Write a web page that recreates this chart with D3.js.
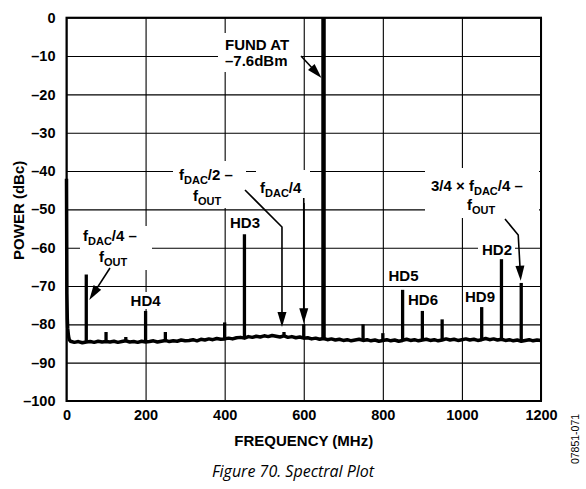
<!DOCTYPE html>
<html>
<head>
<meta charset="utf-8">
<script src="https://cdnjs.cloudflare.com/ajax/libs/d3/7.8.5/d3.min.js"></script>
<style>
  body { margin: 0; background: #fff; }
  text { font-family: "Liberation Sans", Arial, sans-serif; fill: #000; }
</style>
</head>
<body>
<div id="spectral"></div>
<script>
// axis ticks
var xTicks = [0, 200, 400, 600, 800, 1000, 1200];
var xTickLabels = ["0", "200", "400", "600", "800", "1000", "1200"];
var yTicks = [0, -10, -20, -30, -40, -50, -60, -70, -80, -90, -100];
var yTickLabels = ["0", "\u201310", "\u201320", "\u201330", "\u201340", "\u201350", "\u201360", "\u201370", "\u201380", "\u201390", "\u2013100"];

// DC roll-off at the start of the sweep (MHz, dBc)
var dcFreq = [0, 1, 2, 3, 5, 7];
var dcLevel = [-42, -72, -78.5, -81, -83, -84];

// noise floor, one reading every 10 MHz from 10 to 1200 MHz
var floorStep = 10;
var floorLevel = [
  -84.4, -84.7, -84.5, -84.8, -84.6, -84.5, -84.7, -84.4, -84.6, -84.5,
  -84.6, -84.4, -84.7, -84.5, -84.3, -84.6, -84.5, -84.7, -84.4, -84.6,
  -84.5, -84.3, -84.6, -84.4, -84.2, -84.5, -84.3, -84.4, -84.1, -84.3,
  -84.2, -84.0, -84.3, -83.9, -84.1, -83.8, -84.0, -83.7, -83.9, -83.8,
  -83.6, -83.8, -83.5, -83.4, -83.6, -83.2, -83.4, -83.1, -83.3, -83.0,
  -83.2, -82.9, -83.1, -83.3, -83.0, -83.4, -83.2, -83.5, -83.3, -83.6,
  -83.5, -83.8, -83.6, -83.9, -83.7, -84.0, -83.8, -84.1, -83.9, -84.2,
  -84.0, -84.3, -84.1, -83.9, -84.2, -84.0, -84.3, -84.1, -84.4, -84.2,
  -84.0, -84.3, -84.1, -84.4, -84.2, -83.9, -84.2, -84.0, -84.3, -84.1,
  -83.9, -84.2, -84.0, -84.3, -84.1, -83.8, -84.1, -83.9, -84.2, -84.0,
  -83.8, -84.1, -83.9, -84.2, -84.0, -83.7, -84.0, -83.8, -84.1, -83.9,
  -84.2, -84.0, -84.3, -84.1, -84.4, -84.2, -84.0, -84.3, -84.1, -84.2
];

// spurs (MHz, dBc)
var spurFreq = [50, 100, 150, 200, 250, 400, 450, 550, 600, 750, 800, 850, 900, 950, 1050, 1100, 1150];
var spurLevel = [-67, -82, -83.3, -76.5, -82, -79.5, -56.5, -82, -80, -80, -82.3, -71, -76.5, -78.7, -75.5, -63, -69.2];

// fundamental
var fundFreq = [650];
var fundLevel = [0];

var W = 586, H = 489;
var svg = d3.select("#spectral")
  .append("svg")
    .attr("width", W)
    .attr("height", H);

var x = d3.scaleLinear().domain([0, 1200]).range([66.5, 541]);
var y = d3.scaleLinear().domain([-100, 0]).range([401, 17.7]);

// grid + tick labels
var xAxis = svg.append("g")
  .attr("transform", "translate(0," + y(-100) + ")")
  .call(d3.axisBottom(x)
    .tickValues(xTicks)
    .tickSize(-(y(-100) - y(0)))
    .tickPadding(9)
    .tickFormat(function(d, i) { return xTickLabels[i]; }));
var yAxis = svg.append("g")
  .attr("transform", "translate(" + x(0) + ",0)")
  .call(d3.axisLeft(y)
    .tickValues(yTicks)
    .tickSize(-(x(1200) - x(0)))
    .tickPadding(11)
    .tickFormat(function(d, i) { return yTickLabels[i]; }));

[xAxis, yAxis].forEach(function(a) {
  a.select(".domain").remove();
  a.selectAll("line").attr("stroke", "#000").attr("stroke-width", 1.1);
  a.selectAll("text")
    .style("font-family", "'Liberation Sans', Arial, sans-serif")
    .style("font-size", "14.5px")
    .style("font-weight", "bold")
    .attr("fill", "#000");
});

// white boxes behind the annotations (they cut the grid)
var boxes = [
  [218, 33, 83, 39],
  [173, 161, 73, 47],
  [256, 170, 54, 33],
  [80, 226, 72, 44],
  [128, 292, 36, 17],
  [425, 168, 114, 50],
  [478, 240, 37, 17]
];
svg.selectAll("rect.box")
  .data(boxes)
  .enter()
  .append("rect")
    .attr("class", "box")
    .attr("x", function(d) { return d[0]; })
    .attr("y", function(d) { return d[1]; })
    .attr("width", function(d) { return d[2]; })
    .attr("height", function(d) { return d[3]; })
    .attr("fill", "#fff");

// spectrum: DC roll-off + noise floor
var trace = dcFreq.map(function(f, i) { return [f, dcLevel[i]]; })
  .concat(floorLevel.map(function(v, i) { return [floorStep * (i + 1), v]; }));

svg.append("path")
  .datum(trace)
  .attr("fill", "none")
  .attr("stroke", "#000")
  .attr("stroke-width", 3.5)
  .attr("stroke-linejoin", "round")
  .attr("d", d3.line()
    .x(function(d) { return x(d[0]); })
    .y(function(d) { return y(d[1]); }));

function floorAt(f) {
  return floorLevel[Math.max(0, Math.round(f / floorStep) - 1)];
}

// spurs
svg.selectAll("line.spur")
  .data(spurFreq)
  .enter()
  .append("line")
    .attr("class", "spur")
    .attr("x1", function(d) { return x(d); })
    .attr("x2", function(d) { return x(d); })
    .attr("y1", function(d) { return y(floorAt(d)); })
    .attr("y2", function(d, i) { return y(spurLevel[i]); })
    .attr("stroke", "#000")
    .attr("stroke-width", 3.3);

svg.selectAll("line.fund")
  .data(fundFreq)
  .enter()
  .append("line")
    .attr("class", "fund")
    .attr("x1", function(d) { return x(d); })
    .attr("x2", function(d) { return x(d); })
    .attr("y1", function(d) { return y(floorAt(d)); })
    .attr("y2", function(d, i) { return y(fundLevel[i]); })
    .attr("stroke", "#000")
    .attr("stroke-width", 4.5);

// plot frame
svg.append("rect")
  .attr("x", x(0))
  .attr("y", y(0))
  .attr("width", x(1200) - x(0))
  .attr("height", y(-100) - y(0))
  .attr("fill", "none")
  .attr("stroke", "#000")
  .attr("stroke-width", 2);

// axis titles
svg.append("text")
  .attr("x", (x(0) + x(1200)) / 2)
  .attr("y", 446)
  .attr("text-anchor", "middle")
  .style("font-size", "15px")
  .style("font-weight", "bold")
  .text("FREQUENCY (MHz)");

svg.append("text")
  .attr("transform", "translate(24," + (y(-50) + 1) + ") rotate(-90)")
  .attr("text-anchor", "middle")
  .style("font-size", "15px")
  .style("font-weight", "bold")
  .text("POWER (dBc)");

svg.append("text")
  .attr("x", 293)
  .attr("y", 477)
  .attr("text-anchor", "middle")
  .style("font-family", "'Open Sans', sans-serif")
  .style("font-style", "italic")
  .style("font-size", "16px")
  .text("Figure 70. Spectral Plot");

svg.append("text")
  .attr("transform", "translate(579,439) rotate(-90)")
  .attr("text-anchor", "middle")
  .style("font-size", "10.5px")
  .text("07851-071");

// annotation text; parts starting with "_" are subscripts
function label(px, py, parts, anchor) {
  var t = svg.append("text")
    .attr("x", px)
    .attr("y", py)
    .attr("text-anchor", anchor || "start")
    .style("font-size", "15px")
    .style("font-weight", "bold");
  var inSub = false;
  parts.forEach(function(p) {
    var s = t.append("tspan");
    if (p.charAt(0) === "_") {
      s.text(p.slice(1)).style("font-size", "11px");
      if (!inSub) s.attr("dy", 4);
      inSub = true;
    } else {
      s.text(p);
      if (inSub) s.attr("dy", -4);
      inSub = false;
    }
  });
}

label(225, 50, ["FUND AT"]);
label(225, 66, ["\u20137.6dBm"]);
label(179, 180, ["f", "_DAC", "/2 \u2013"]);
label(193, 201, ["f", "_OUT"]);
label(260, 193, ["f", "_DAC", "/4"]);
label(83, 241, ["f", "_DAC", "/4 \u2013"]);
label(99, 262, ["f", "_OUT"]);
label(431, 191, ["3/4 \u00d7 f", "_DAC", "/4 \u2013"]);
label(467, 210, ["f", "_OUT"]);
label(245, 228, ["HD3"], "middle");
label(x(200), 306, ["HD4"], "middle");
label(403.5, 281, ["HD5"], "middle");
label(423, 305, ["HD6"], "middle");
label(480, 302, ["HD9"], "middle");
label(497, 255, ["HD2"], "middle");

// arrows: polyline with a filled head at the last point
function headBase(pts) {
  var a = pts[pts.length - 2], b = pts[pts.length - 1];
  var dx = b[0] - a[0], dy = b[1] - a[1], L = Math.sqrt(dx * dx + dy * dy);
  return [b[0] - dx / L * 10, b[1] - dy / L * 10];
}
function arrow(pts) {
  svg.append("path")
    .attr("d", d3.line()(pts.slice(0, -1).concat([headBase(pts)])))
    .attr("fill", "none")
    .attr("stroke", "#000")
    .attr("stroke-width", 1.6);
  var a = pts[pts.length - 2], b = pts[pts.length - 1];
  var dx = b[0] - a[0], dy = b[1] - a[1], L = Math.sqrt(dx * dx + dy * dy);
  var ux = dx / L, uy = dy / L, len = 15, hw = 4.5;
  var bx = b[0] - ux * len, by = b[1] - uy * len;
  svg.append("path")
    .attr("d", "M" + b[0] + "," + b[1] +
      "L" + (bx - uy * hw) + "," + (by + ux * hw) +
      "L" + (bx + uy * hw) + "," + (by - ux * hw) + "Z")
    .attr("fill", "#000");
}

arrow([[301, 56], [x(650) - 2, 78]]);
arrow([[245, 190], [x(550) - 2, 227], [x(550) - 2, y(-80.7)]]);
arrow([[x(600), 198], [x(600), y(-79.7)]]);
arrow([[110, 268], [x(50) + 3, 300]]);
arrow([[505, 219], [x(1150) - 3, 235], [x(1150) - 0.5, y(-68.6)]]);
</script>
</body>
</html>
